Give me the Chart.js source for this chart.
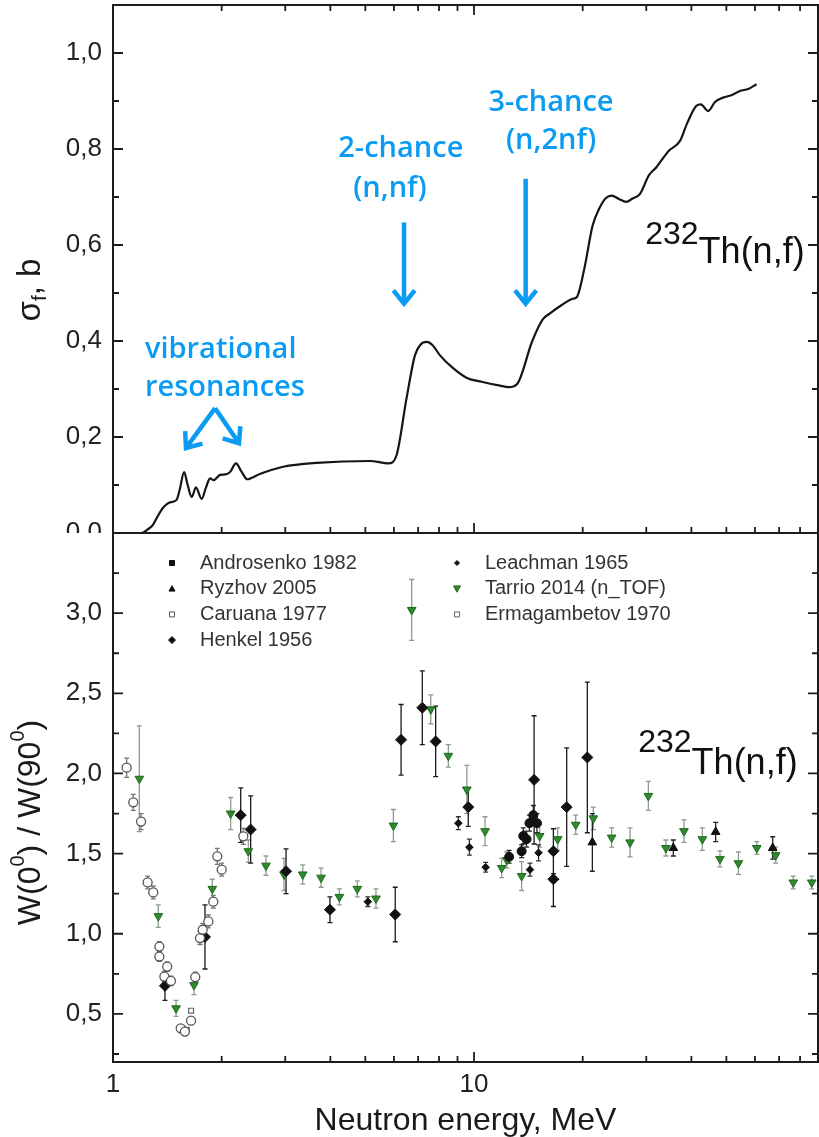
<!DOCTYPE html>
<html>
<head>
<meta charset="utf-8">
<script src="https://cdn.jsdelivr.net/npm/chart.js@4.4.1/dist/chart.umd.min.js"></script>
<style>
  html, body { margin: 0; padding: 0; background: #fff; }
  #wrap { position: relative; width: 819px; height: 1137px; overflow: hidden; }
  #topChart { position: absolute; left: 0; top: 0; }
  #bottomChart { position: absolute; left: 0; top: 531px; }
</style>
</head>
<body>
<div id="wrap">
  <canvas id="topChart" width="819" height="533"></canvas>
  <canvas id="bottomChart" width="819" height="606"></canvas>
</div>
<script>
// ---------- axes ----------
const xMin = 1, xMax = 89.7;
const xMajor = [1, 10];
const xMinor = [2, 3, 4, 5, 6, 7, 8, 9, 20, 30, 40, 50, 60, 70, 80];
const sigmaTicks = [0, 0.2, 0.4, 0.6, 0.8, 1.0];
const sigmaMinor = [0.1, 0.3, 0.5, 0.7, 0.9];
const ratioTicks = [0.5, 1.0, 1.5, 2.0, 2.5, 3.0];
const ratioMinor = [0.25, 0.75, 1.25, 1.75, 2.25, 2.75, 3.25];

// ---------- top panel: fission cross section ----------
const sigmaE = [1.0, 1.2, 1.25, 1.29, 1.33, 1.375, 1.43, 1.5, 1.53, 1.574, 1.61, 1.652, 1.697, 1.76, 1.81,
  1.857, 1.9, 1.979, 2.05, 2.11, 2.19, 2.27, 2.354, 2.55, 2.96, 3.66, 5.15, 5.79, 6.1, 6.5, 6.86, 7.1,
  7.41, 7.7, 8.05, 8.7, 9.56, 10.5, 11.8, 12.45, 13.15, 14.5, 15.5, 16.2, 17.5, 18.8, 19.25, 20.2, 21.3,
  22.3, 23.2, 24.06, 25.2, 26.4, 27.5, 28.8, 30.5, 32.0, 34.5, 37.2, 39.0, 41.3, 42.5, 44.5, 46.5, 49.0,
  52.0, 54.5, 57.5, 60.6];
const sigmaF = [0.0, 0.0, 0.008, 0.017, 0.035, 0.052, 0.063, 0.069, 0.09, 0.127, 0.1, 0.075, 0.095, 0.071, 0.095,
  0.114, 0.11, 0.121, 0.122, 0.127, 0.145, 0.128, 0.112, 0.123, 0.138, 0.146, 0.15, 0.145, 0.162, 0.28, 0.37, 0.392,
  0.398, 0.39, 0.37, 0.345, 0.323, 0.315, 0.307, 0.304, 0.31, 0.4, 0.445, 0.457, 0.475, 0.488, 0.491, 0.55, 0.64,
  0.678, 0.698, 0.703, 0.696, 0.69, 0.697, 0.706, 0.745, 0.762, 0.795, 0.817, 0.855, 0.89, 0.893, 0.879, 0.898, 0.907,
  0.913, 0.921, 0.925, 0.935];

// ---------- bottom panel: anisotropy W(0)/W(90) ----------
const androsenkoE = [12.51, 13.55, 13.69, 13.98, 14.24, 14.6, 14.94];
const androsenkoW = [1.48, 1.515, 1.61, 1.59, 1.69, 1.74, 1.69];
const androsenkoErr = [0.04, 0.04, 0.05, 0.05, 0.05, 0.06, 0.06];

const ryzhovE = [21.27, 35.65, 46.7, 67.2];
const ryzhovW = [1.57, 1.535, 1.635, 1.535];
const ryzhovErr = [0.18, 0.05, 0.06, 0.07];

const caruanaE = [1.091, 1.138, 1.196, 1.247, 1.293, 1.344, 1.344, 1.388, 1.413, 1.447, 1.54, 1.582, 1.645,
  1.69, 1.742, 1.772, 1.837, 1.896, 1.945, 2.0, 2.296];
const caruanaW = [2.036, 1.82, 1.70, 1.32, 1.258, 0.92, 0.858, 0.733, 0.795, 0.706, 0.41, 0.39, 0.458,
  0.73, 0.973, 1.025, 1.077, 1.2, 1.483, 1.4, 1.608];
const caruanaErr = [0.06, 0.05, 0.05, 0.04, 0.04, 0.03, 0.03, 0.03, 0.03, 0.03, 0.02, 0.02, 0.02,
  0.03, 0.04, 0.04, 0.04, 0.04, 0.05, 0.04, 0.05];

const henkelE = [1.393, 1.798, 2.258, 2.406, 3.015, 3.99, 6.05, 6.28, 7.19, 7.83, 9.64, 14.67, 16.59, 16.59, 18.06, 20.6];
const henkelW = [0.675, 0.98, 1.74, 1.65, 1.39, 1.15, 1.12, 2.21, 2.41, 2.20, 1.79, 1.96, 1.515, 1.34, 1.79, 2.10];
const henkelErr = [0.09, 0.2, 0.17, 0.21, 0.14, 0.08, 0.17, 0.22, 0.23, 0.22, 0.12, 0.4, 0.14, 0.17, 0.37, 0.47];

const leachmanE = [5.08, 9.05, 9.71, 10.77, 14.29, 15.09];
const leachmanW = [1.2, 1.69, 1.54, 1.415, 1.40, 1.505];
const leachmanErr = [0.03, 0.04, 0.05, 0.03, 0.04, 0.05];

const tarrioE = [1.183, 1.335, 1.495, 1.676, 1.884, 2.118, 2.37, 2.653, 2.976, 3.354, 3.77, 4.236, 4.75, 5.35,
  5.98, 6.72, 7.59, 8.49, 9.55, 10.73, 11.93, 12.32, 13.55, 15.2, 17.05, 19.13, 21.4, 24.06, 27.05, 30.4,
  34.0, 38.15, 42.9, 48.0, 54.0, 60.7, 68.5, 76.6, 86.2];
const tarrioW = [1.967, 1.11, 0.535, 0.68, 1.28, 1.75, 1.515, 1.425, 1.37, 1.37, 1.35, 1.23, 1.28, 1.22,
  1.675, 3.02, 2.40, 2.11, 1.90, 1.64, 1.41, 1.46, 1.36, 1.61, 1.59, 1.68, 1.72, 1.6, 1.57, 1.86,
  1.535, 1.64, 1.59, 1.467, 1.44, 1.535, 1.49, 1.32, 1.32];
const tarrioErr = [0.33, 0.07, 0.05, 0.06, 0.06, 0.1, 0.07, 0.06, 0.1, 0.06, 0.06, 0.05, 0.05, 0.06,
  0.1, 0.19, 0.09, 0.07, 0.15, 0.09, 0.06, 0.05, 0.09, 0.07, 0.07, 0.06, 0.07, 0.06, 0.09, 0.09,
  0.05, 0.07, 0.07, 0.05, 0.07, 0.04, 0.05, 0.04, 0.04];

const ermagE = [1.555, 1.6, 1.645];
const ermagW = [0.41, 0.40, 0.52];

const seriesNames = ['Androsenko 1982', 'Ryzhov 2005', 'Caruana 1977', 'Henkel 1956',
  'Leachman 1965', 'Tarrio 2014 (n_TOF)', 'Ermagambetov 1970'];

// ---------- helpers ----------
const FONT = "'Liberation Sans', Arial, sans-serif";
const noteColor = '#0b9bf3';
const pts = (xs, ys) => xs.map((x, i) => ({ x: x, y: ys[i] }));
const comma = v => Number(v).toFixed(1).replace('.', ',');

function drawRich(ctx, parts, x, y) {
  let cx = x;
  parts.forEach(p => {
    ctx.font = p.size + 'px ' + FONT;
    ctx.fillText(p.text, cx, y + (p.dy || 0));
    cx += ctx.measureText(p.text).width;
  });
}
function richWidth(ctx, parts) {
  let w = 0;
  parts.forEach(p => { ctx.font = p.size + 'px ' + FONT; w += ctx.measureText(p.text).width; });
  return w;
}
function drawArrow(ctx, x1, y1, x2, y2) {
  const ang = Math.atan2(y2 - y1, x2 - x1), L = 17, a = 0.68;
  ctx.beginPath();
  ctx.moveTo(x1, y1);
  ctx.lineTo(x2 - 2 * Math.cos(ang), y2 - 2 * Math.sin(ang));
  ctx.stroke();
  ctx.beginPath();
  ctx.moveTo(x2 - L * Math.cos(ang - a), y2 - L * Math.sin(ang - a));
  ctx.lineTo(x2, y2);
  ctx.lineTo(x2 - L * Math.cos(ang + a), y2 - L * Math.sin(ang + a));
  ctx.stroke();
}
function drawMarker(ctx, style, x, y, r) {
  ctx.beginPath();
  if (style === 'circle') ctx.arc(x, y, r, 0, Math.PI * 2);
  else if (style === 'rect') ctx.rect(x - r, y - r, 2 * r, 2 * r);
  else if (style === 'rectRot') { ctx.moveTo(x, y - r); ctx.lineTo(x + r, y); ctx.lineTo(x, y + r); ctx.lineTo(x - r, y); ctx.closePath(); }
  else if (style === 'triangle') { ctx.moveTo(x, y - r); ctx.lineTo(x + r, y + r * 0.8); ctx.lineTo(x - r, y + r * 0.8); ctx.closePath(); }
  else if (style === 'triangleDown') { ctx.moveTo(x, y + r); ctx.lineTo(x + r, y - r * 0.8); ctx.lineTo(x - r, y - r * 0.8); ctx.closePath(); }
  ctx.fill();
  ctx.stroke();
}

// frame with inward ticks on all sides
const frameTicks = {
  id: 'frameTicks',
  afterDatasetsDraw(chart, args, opts) {
    const { ctx, chartArea: a, scales: { x, y } } = chart;
    ctx.save();
    ctx.strokeStyle = '#1c1c1c';
    ctx.lineWidth = 2;
    ctx.strokeRect(a.left, a.top, a.right - a.left, a.bottom - a.top);
    ctx.lineWidth = 1.8;
    ctx.beginPath();
    xMajor.concat(xMinor).forEach(v => {
      const len = xMajor.includes(v) ? 10 : 6;
      const px = x.getPixelForValue(v);
      ctx.moveTo(px, a.bottom); ctx.lineTo(px, a.bottom - len);
      if (opts.topTicks) { ctx.moveTo(px, a.top); ctx.lineTo(px, a.top + len); }
    });
    opts.yMajor.concat(opts.yMinor).forEach(v => {
      const len = opts.yMajor.includes(v) ? 10 : 6;
      const py = y.getPixelForValue(v);
      ctx.moveTo(a.left, py); ctx.lineTo(a.left + len, py);
      ctx.moveTo(a.right, py); ctx.lineTo(a.right - len, py);
    });
    ctx.stroke();
    ctx.restore();
  }
};

// rotated y title and the isotope label
const labels = {
  id: 'labels',
  afterDraw(chart, args, opts) {
    const { ctx, chartArea: a, scales: { x, y } } = chart;
    ctx.save();
    ctx.fillStyle = '#1a1a1a';
    ctx.textBaseline = 'middle';
    ctx.textAlign = 'left';
    const w = richWidth(ctx, opts.yTitle);
    ctx.translate(opts.yTitleX, (a.top + a.bottom) / 2 + opts.yTitleDy);
    ctx.rotate(-Math.PI / 2);
    drawRich(ctx, opts.yTitle, -w / 2, 0);
    ctx.restore();

    ctx.save();
    ctx.fillStyle = '#111';
    ctx.textBaseline = 'alphabetic';
    ctx.textAlign = 'left';
    drawRich(ctx, opts.isotope.parts, x.getPixelForValue(opts.isotope.x), y.getPixelForValue(opts.isotope.y));
    ctx.restore();
  }
};

// blue annotations in the top panel
const notes = {
  id: 'notes',
  afterDatasetsDraw(chart, args, opts) {
    const { ctx, scales: { x, y } } = chart;
    ctx.save();
    ctx.fillStyle = noteColor;
    ctx.strokeStyle = noteColor;
    ctx.font = "600 29px 'Open Sans', sans-serif";
    ctx.textBaseline = 'middle';
    opts.texts.forEach(t => {
      ctx.textAlign = t.align || 'center';
      ctx.fillText(t.text, x.getPixelForValue(t.x), y.getPixelForValue(t.y));
    });
    ctx.lineWidth = 4.5;
    ctx.lineJoin = 'miter';
    opts.arrows.forEach(r => drawArrow(ctx,
      x.getPixelForValue(r.from[0]), y.getPixelForValue(r.from[1]),
      x.getPixelForValue(r.to[0]), y.getPixelForValue(r.to[1])));
    ctx.restore();
  }
};

// vertical error bars
const errorBars = {
  id: 'errorBars',
  beforeDatasetsDraw(chart) {
    const { ctx, chartArea: a, scales: { x, y } } = chart;
    ctx.save();
    ctx.beginPath();
    ctx.rect(a.left, a.top, a.right - a.left, a.bottom - a.top);
    ctx.clip();
    ctx.lineWidth = 1.3;
    chart.data.datasets.slice().reverse().forEach(ds => {
      if (!ds.errors) return;
      ctx.strokeStyle = ds.errorColor;
      ctx.beginPath();
      ds.data.forEach((p, i) => {
        const e = ds.errors[i];
        if (!e) return;
        const px = x.getPixelForValue(p.x);
        const y1 = y.getPixelForValue(p.y + e), y2 = y.getPixelForValue(p.y - e);
        ctx.moveTo(px, y1); ctx.lineTo(px, y2);
        ctx.moveTo(px - 2.5, y1); ctx.lineTo(px + 2.5, y1);
        ctx.moveTo(px - 2.5, y2); ctx.lineTo(px + 2.5, y2);
      });
      ctx.stroke();
    });
    ctx.restore();
  }
};

// two-column legend inside the plot
const insideLegend = {
  id: 'insideLegend',
  afterDraw(chart, args, opts) {
    const { ctx, chartArea: a } = chart;
    ctx.save();
    ctx.font = '20px ' + FONT;
    ctx.textBaseline = 'middle';
    ctx.textAlign = 'left';
    chart.data.datasets.forEach((ds, i) => {
      const col = i < 4 ? 0 : 1, row = i < 4 ? i : i - 4;
      const mx = a.left + opts.colX[col], my = a.top + opts.rowY + row * opts.rowGap;
      ctx.fillStyle = ds.backgroundColor;
      ctx.strokeStyle = ds.borderColor;
      ctx.lineWidth = 1;
      drawMarker(ctx, ds.legendStyle, mx, my, ds.legendRadius);
      ctx.fillStyle = '#333';
      ctx.fillText(ds.label, mx + 28, my);
    });
    ctx.restore();
  }
};

const yAxisFit = s => { s.width = 113; s.paddingTop = 0; s.paddingBottom = 0; };
const tickFont = { family: FONT, size: 26 };

// ---------- top chart ----------
new Chart(document.getElementById('topChart'), {
  type: 'line',
  data: {
    datasets: [{
      data: pts(sigmaE, sigmaF),
      borderColor: '#151515',
      borderWidth: 2.2,
      pointRadius: 0,
      cubicInterpolationMode: 'monotone',
      fill: false
    }]
  },
  options: {
    responsive: false,
    animation: false,
    devicePixelRatio: 1,
    layout: { autoPadding: false, padding: { top: 5, right: 1, left: 0, bottom: 0 } },
    plugins: {
      legend: { display: false },
      tooltip: { enabled: false },
      frameTicks: { topTicks: true, yMajor: sigmaTicks, yMinor: sigmaMinor },
      labels: {
        yTitleX: 31, yTitleDy: 21,
        yTitle: [{ text: 'σ', size: 33 }, { text: 'f', size: 21, dy: 9 }, { text: ', b', size: 33 }],
        isotope: { x: 29.8, y: 0.603, parts: [{ text: '232', size: 32 }, { text: 'Th(n,f)', size: 36, dy: 19 }] }
      },
      notes: {
        texts: [
          { text: '2-chance', x: 6.27, y: 0.80 },
          { text: '(n,nf)', x: 5.85, y: 0.717 },
          { text: '3-chance', x: 16.34, y: 0.896 },
          { text: '(n,2nf)', x: 16.34, y: 0.817 },
          { text: 'vibrational', x: 1.226, y: 0.3825, align: 'left' },
          { text: 'resonances', x: 1.226, y: 0.3035, align: 'left' }
        ],
        arrows: [
          { from: [6.4, 0.647], to: [6.4, 0.478] },
          { from: [13.9, 0.738], to: [13.9, 0.478] },
          { from: [1.918, 0.26], to: [1.593, 0.177] },
          { from: [1.918, 0.26], to: [2.233, 0.187] }
        ]
      }
    },
    scales: {
      x: { type: 'logarithmic', min: xMin, max: xMax, display: false },
      y: {
        min: 0, max: 1.1,
        afterFit: yAxisFit,
        afterBuildTicks: s => { s.ticks = sigmaTicks.map(v => ({ value: v })); },
        grid: { display: false, drawTicks: false },
        border: { display: false },
        ticks: { padding: 11, color: '#222', font: tickFont, callback: v => comma(v) }
      }
    }
  },
  plugins: [frameTicks, notes, labels]
});

// ---------- bottom chart ----------
const black = '#111';
new Chart(document.getElementById('bottomChart'), {
  type: 'scatter',
  data: {
    datasets: [
      { label: seriesNames[0], data: pts(androsenkoE, androsenkoW), errors: androsenkoErr, errorColor: '#222',
        pointStyle: 'circle', pointRadius: 4.5, backgroundColor: black, borderColor: black,
        legendStyle: 'rect', legendRadius: 2.5 },
      { label: seriesNames[1], data: pts(ryzhovE, ryzhovW), errors: ryzhovErr, errorColor: '#222',
        pointStyle: 'triangle', pointRadius: 5, backgroundColor: black, borderColor: black,
        legendStyle: 'triangle', legendRadius: 3 },
      { label: seriesNames[2], data: pts(caruanaE, caruanaW), errors: caruanaErr, errorColor: '#777',
        pointStyle: 'circle', pointRadius: 4.5, backgroundColor: '#fff', borderColor: '#555', borderWidth: 1.3,
        legendStyle: 'rect', legendRadius: 2.5 },
      { label: seriesNames[3], data: pts(henkelE, henkelW), errors: henkelErr, errorColor: '#1a1a1a',
        pointStyle: 'rectRot', pointRadius: 5.5, backgroundColor: black, borderColor: black,
        legendStyle: 'rectRot', legendRadius: 3.5 },
      { label: seriesNames[4], data: pts(leachmanE, leachmanW), errors: leachmanErr, errorColor: '#333',
        pointStyle: 'rectRot', pointRadius: 3.8, backgroundColor: black, borderColor: black,
        legendStyle: 'rectRot', legendRadius: 2.5 },
      { label: seriesNames[5], data: pts(tarrioE, tarrioW), errors: tarrioErr, errorColor: 'rgba(120,140,120,0.85)',
        pointStyle: 'triangle', rotation: 180, pointRadius: 5, backgroundColor: '#2f8a2f', borderColor: '#1e6a1e',
        legendStyle: 'triangleDown', legendRadius: 3.5 },
      { label: seriesNames[6], data: pts(ermagE, ermagW),
        pointStyle: 'rect', pointRadius: 3.5, backgroundColor: '#fff', borderColor: '#666', borderWidth: 1.2,
        legendStyle: 'rect', legendRadius: 2.5 }
    ]
  },
  options: {
    responsive: false,
    animation: false,
    devicePixelRatio: 1,
    layout: { autoPadding: false, padding: { top: 2, right: 1, left: 0, bottom: 0 } },
    plugins: {
      legend: { display: false },
      tooltip: { enabled: false },
      frameTicks: { topTicks: false, yMajor: ratioTicks, yMinor: ratioMinor },
      insideLegend: { colX: [59, 344], rowY: 30, rowGap: 25.7 },
      labels: {
        yTitleX: 31, yTitleDy: 25,
        yTitle: [{ text: 'W(0', size: 32 }, { text: '0', size: 20, dy: -13 }, { text: ') / W(90', size: 32 },
          { text: '0', size: 20, dy: -13 }, { text: ')', size: 32 }],
        isotope: { x: 28.5, y: 2.131, parts: [{ text: '232', size: 32 }, { text: 'Th(n,f)', size: 36, dy: 22 }] }
      }
    },
    scales: {
      x: {
        type: 'logarithmic', min: xMin, max: xMax,
        afterBuildTicks: s => { s.ticks = xMajor.map(v => ({ value: v })); },
        afterFit: s => { s.height = 75; s.paddingLeft = 0; s.paddingRight = 0; },
        grid: { display: false, drawTicks: false },
        border: { display: false },
        ticks: { padding: 7, autoSkip: false, maxRotation: 0, color: '#222', font: tickFont, callback: v => String(v) },
        title: { display: true, text: 'Neutron energy, MeV', color: '#1a1a1a',
          font: { family: FONT, size: 32, lineHeight: 1.0 }, padding: { top: 0, bottom: 0 } }
      },
      y: {
        min: 0.2, max: 3.5,
        afterFit: yAxisFit,
        afterBuildTicks: s => { s.ticks = ratioTicks.map(v => ({ value: v })); },
        grid: { display: false, drawTicks: false },
        border: { display: false },
        ticks: { padding: 11, color: '#222', font: tickFont, callback: v => comma(v) }
      }
    }
  },
  plugins: [errorBars, frameTicks, insideLegend, labels]
});
</script>
</body>
</html>
